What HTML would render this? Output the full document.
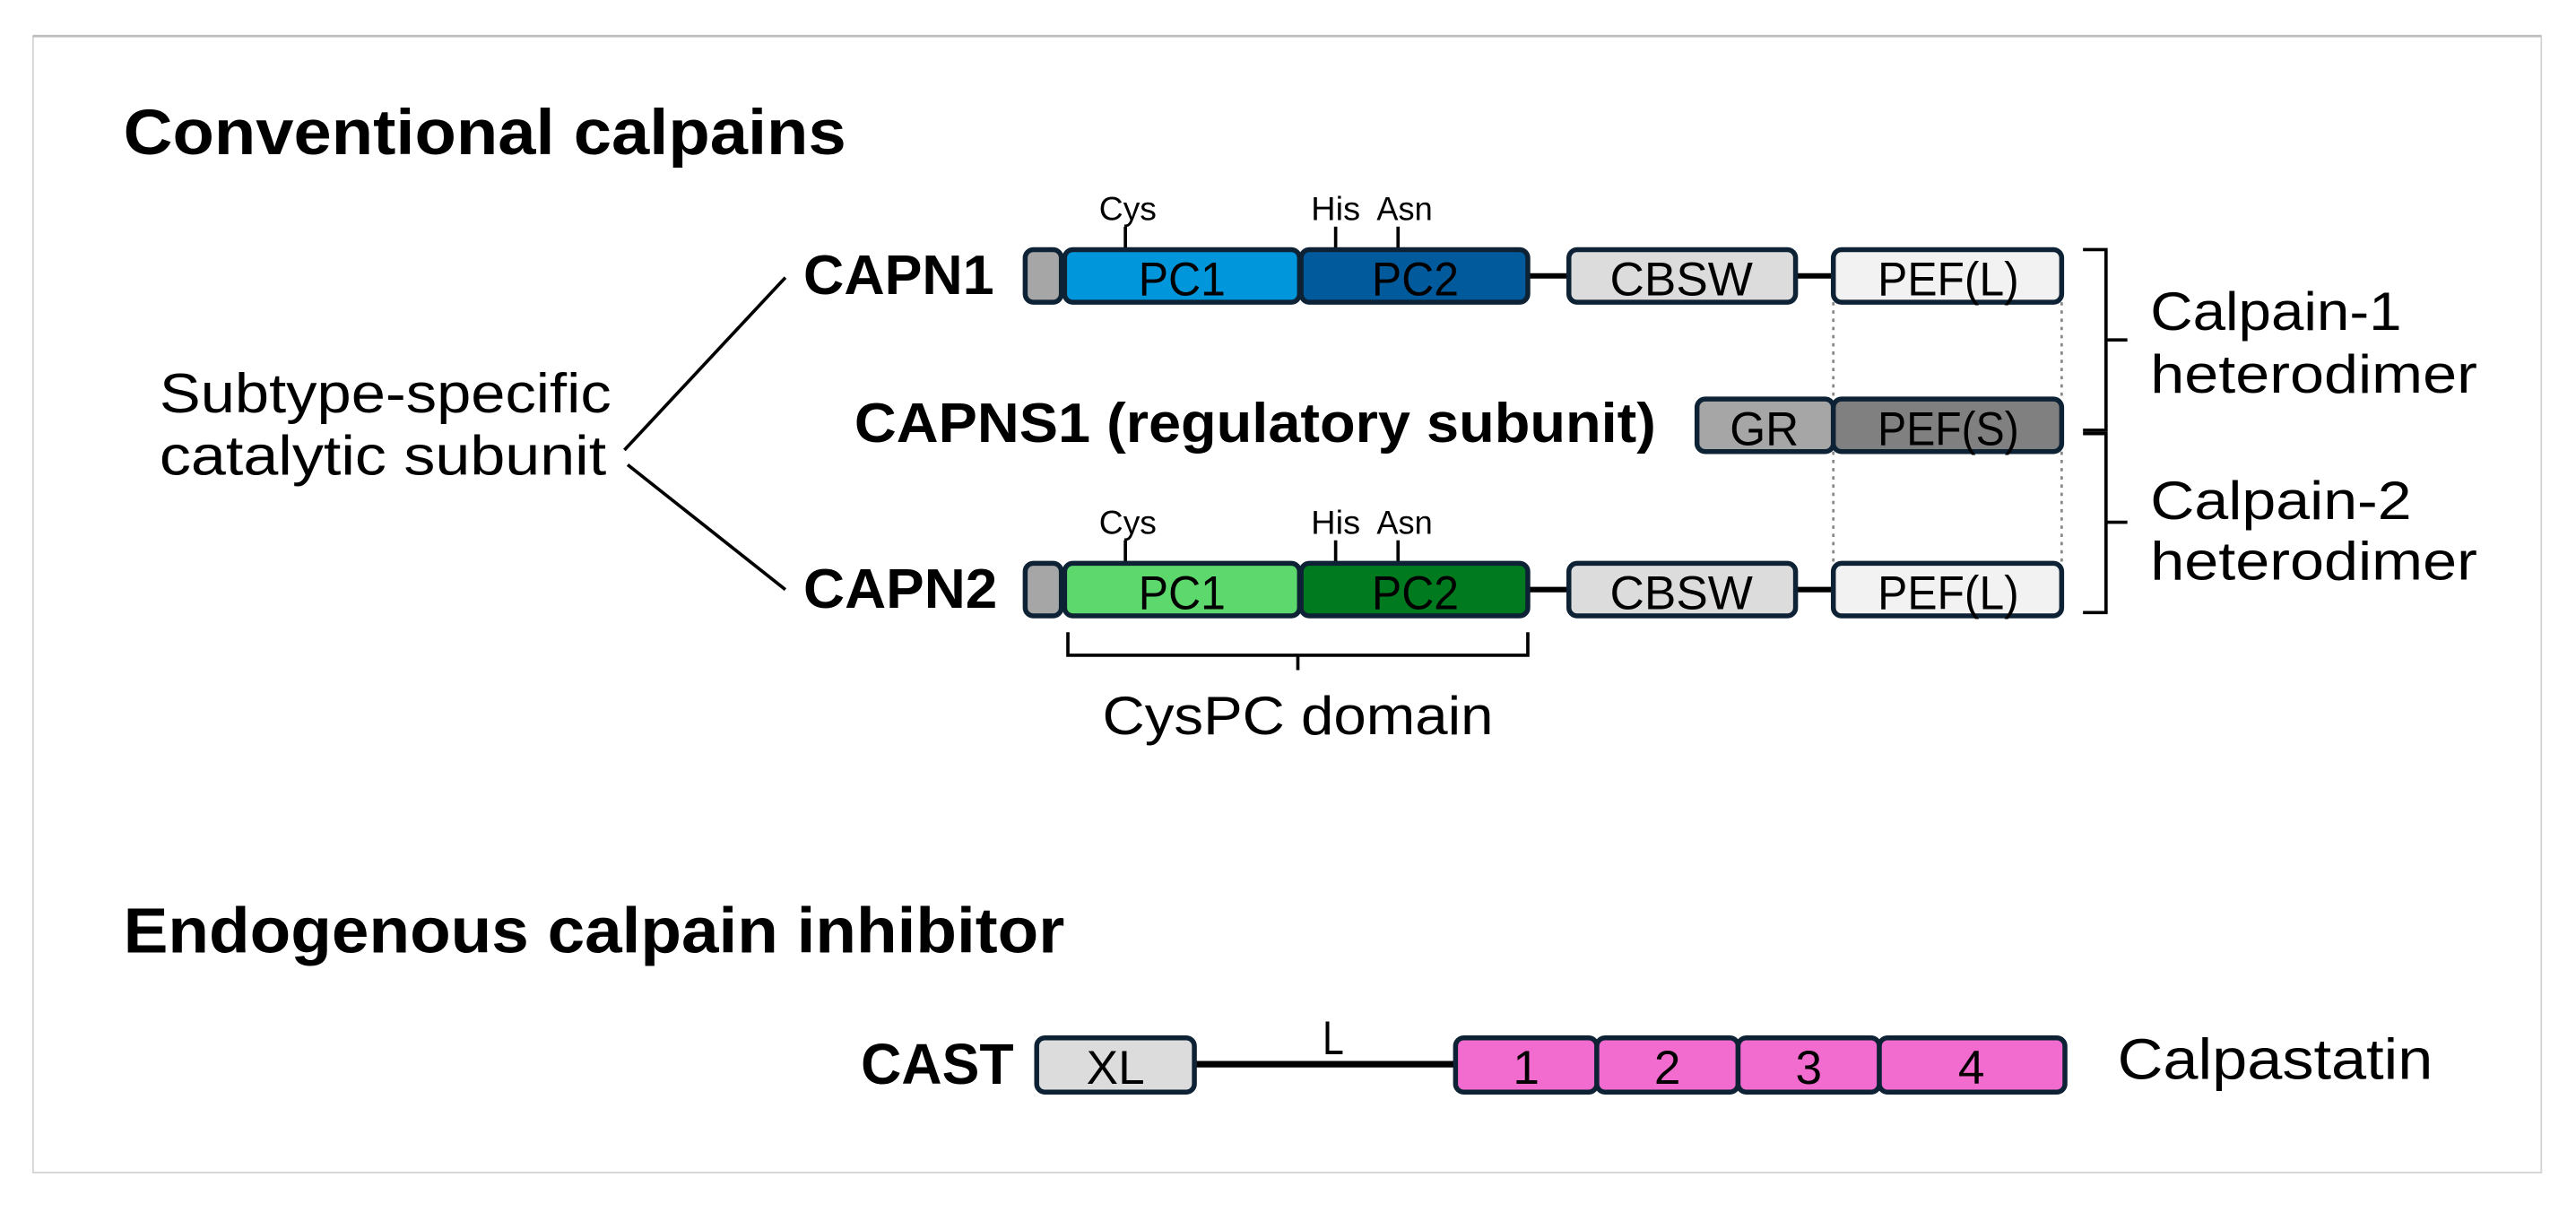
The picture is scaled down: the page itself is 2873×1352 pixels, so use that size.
<!DOCTYPE html>
<html><head><meta charset="utf-8"><style>
html,body{margin:0;padding:0;background:#fff;}
svg{display:block;}
text{font-family:"Liberation Sans",sans-serif;fill:#000;}
.b{font-weight:bold;}
</style></head><body>
<svg width="2873" height="1352" viewBox="0 0 1568 738" xmlns="http://www.w3.org/2000/svg">
<rect x="20" y="22" width="1527" height="692" fill="#fff" stroke="#d4d4d4" stroke-width="1"/>
<line x1="20" y1="22" x2="1547" y2="22" stroke="#bdbdbd" stroke-width="1.5"/>

<text class="b" x="75" y="94" font-size="39" textLength="440" lengthAdjust="spacingAndGlyphs">Conventional calpains</text>
<text x="97" y="251" font-size="34" textLength="275" lengthAdjust="spacingAndGlyphs">Subtype-specific</text>
<text x="97" y="289" font-size="34" textLength="272" lengthAdjust="spacingAndGlyphs">catalytic subunit</text>
<line x1="380" y1="274" x2="478" y2="169" stroke="#000" stroke-width="2"/>
<line x1="382" y1="283" x2="478" y2="359" stroke="#000" stroke-width="2"/>

<text class="b" x="489" y="179" font-size="34" textLength="116" lengthAdjust="spacingAndGlyphs">CAPN1</text>
<text class="b" x="520" y="269" font-size="34" textLength="488" lengthAdjust="spacingAndGlyphs">CAPNS1 (regulatory subunit)</text>
<text class="b" x="489" y="370" font-size="34" textLength="118" lengthAdjust="spacingAndGlyphs">CAPN2</text>

<g stroke="#000" stroke-width="3.3">
<line x1="930" y1="168" x2="955" y2="168"/><line x1="1093" y1="168" x2="1116" y2="168"/>
<line x1="930" y1="359" x2="955" y2="359"/><line x1="1093" y1="359" x2="1116" y2="359"/>
<line x1="727" y1="648" x2="886" y2="648" stroke-width="4"/>
</g>
<g stroke="#000" stroke-width="2">
<line x1="685" y1="138" x2="685" y2="152"/><line x1="813" y1="138" x2="813" y2="152"/><line x1="851" y1="138" x2="851" y2="152"/>
<line x1="685" y1="329" x2="685" y2="343"/><line x1="813" y1="329" x2="813" y2="343"/><line x1="851" y1="329" x2="851" y2="343"/>
</g>
<g font-size="20">
<text x="669" y="134" textLength="35" lengthAdjust="spacingAndGlyphs">Cys</text><text x="798" y="134" textLength="30" lengthAdjust="spacingAndGlyphs">His</text><text x="838" y="134" textLength="34" lengthAdjust="spacingAndGlyphs">Asn</text>
<text x="669" y="325" textLength="35" lengthAdjust="spacingAndGlyphs">Cys</text><text x="798" y="325" textLength="30" lengthAdjust="spacingAndGlyphs">His</text><text x="838" y="325" textLength="34" lengthAdjust="spacingAndGlyphs">Asn</text>
</g>

<g stroke="#888" stroke-width="1.5" stroke-dasharray="2,3">
<line x1="1116" y1="184" x2="1116" y2="243"/><line x1="1255" y1="184" x2="1255" y2="243"/>
<line x1="1116" y1="275" x2="1116" y2="343"/><line x1="1255" y1="275" x2="1255" y2="343"/>
</g>

<g stroke="#0e2236" stroke-width="3">
<rect x="624" y="152" width="22" height="32" rx="5" fill="#a6a6a6"/>
<rect x="648" y="152" width="143" height="32" rx="5" fill="#0096dc"/>
<rect x="792" y="152" width="138" height="32" rx="5" fill="#005a9c"/>
<rect x="955" y="152" width="138" height="32" rx="5" fill="#dcdcdc"/>
<rect x="1116" y="152" width="139" height="32" rx="5" fill="#f2f2f2"/>

<rect x="1033" y="243" width="83" height="32" rx="5" fill="#a6a6a6"/>
<rect x="1116" y="243" width="139" height="32" rx="5" fill="#808080"/>

<rect x="624" y="343" width="22" height="32" rx="5" fill="#a6a6a6"/>
<rect x="648" y="343" width="143" height="32" rx="5" fill="#5cd86c"/>
<rect x="792" y="343" width="138" height="32" rx="5" fill="#007a1e"/>
<rect x="955" y="343" width="138" height="32" rx="5" fill="#dcdcdc"/>
<rect x="1116" y="343" width="139" height="32" rx="5" fill="#f2f2f2"/>

<rect x="631" y="632" width="96" height="33" rx="5" fill="#dcdcdc"/>
<rect x="886" y="632" width="86" height="33" rx="5" fill="#f26bce"/>
<rect x="972" y="632" width="86" height="33" rx="5" fill="#f26bce"/>
<rect x="1058" y="632" width="86" height="33" rx="5" fill="#f26bce"/>
<rect x="1144" y="632" width="113" height="33" rx="5" fill="#f26bce"/>
</g>

<g font-size="29">
<text x="693" y="180" textLength="53" lengthAdjust="spacingAndGlyphs">PC1</text>
<text x="835" y="180" textLength="53" lengthAdjust="spacingAndGlyphs">PC2</text>
<text x="980" y="180" textLength="87" lengthAdjust="spacingAndGlyphs">CBSW</text>
<text x="1143" y="180" textLength="86" lengthAdjust="spacingAndGlyphs">PEF(L)</text>
<text x="1053" y="271" textLength="42" lengthAdjust="spacingAndGlyphs">GR</text>
<text x="1143" y="271" textLength="86" lengthAdjust="spacingAndGlyphs">PEF(S)</text>
<text x="693" y="371" textLength="53" lengthAdjust="spacingAndGlyphs">PC1</text>
<text x="835" y="371" textLength="53" lengthAdjust="spacingAndGlyphs">PC2</text>
<text x="980" y="371" textLength="87" lengthAdjust="spacingAndGlyphs">CBSW</text>
<text x="1143" y="371" textLength="86" lengthAdjust="spacingAndGlyphs">PEF(L)</text>
</g>
<g font-size="29" text-anchor="middle">
<text x="679" y="660">XL</text><text x="929" y="660">1</text><text x="1015" y="660">2</text><text x="1101" y="660">3</text><text x="1200" y="660">4</text>
</g>

<g fill="none" stroke="#000" stroke-width="2">
<path d="M1268 152 H1282 V207 H1295 M1282 207 V262 H1268"/>
<path d="M1268 264 H1282 V318 H1295 M1282 318 V373 H1268"/>
<path d="M650 385 V399 H930 V385 M790 399 V408"/>
</g>
<g font-size="33">
<text x="1309" y="201" textLength="153" lengthAdjust="spacingAndGlyphs">Calpain-1</text>
<text x="1309" y="239" textLength="199" lengthAdjust="spacingAndGlyphs">heterodimer</text>
<text x="1309" y="316" textLength="159" lengthAdjust="spacingAndGlyphs">Calpain-2</text>
<text x="1309" y="353" textLength="199" lengthAdjust="spacingAndGlyphs">heterodimer</text>
</g>
<text x="671" y="447" font-size="33" textLength="238" lengthAdjust="spacingAndGlyphs">CysPC domain</text>

<text class="b" x="75" y="580" font-size="39" textLength="573" lengthAdjust="spacingAndGlyphs">Endogenous calpain inhibitor</text>
<text class="b" x="524" y="660" font-size="35" textLength="93" lengthAdjust="spacingAndGlyphs">CAST</text>
<text x="805" y="642" font-size="29" textLength="13" lengthAdjust="spacingAndGlyphs">L</text>
<text x="1289" y="657" font-size="35" textLength="192" lengthAdjust="spacingAndGlyphs">Calpastatin</text>
</svg>
</body></html>
